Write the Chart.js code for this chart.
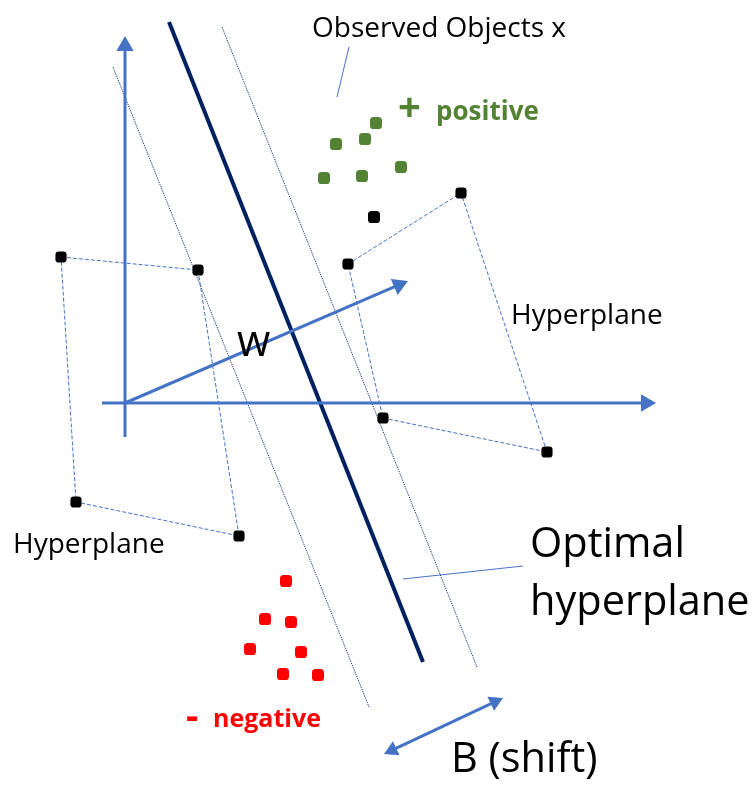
<!DOCTYPE html>
<html>
<head>
<meta charset="utf-8">
<script src="https://cdn.jsdelivr.net/npm/chart.js@4.4.1/dist/chart.umd.min.js"></script>
<style>
  html, body { margin: 0; padding: 0; background: #fff; }
  #wrap { position: relative; width: 753px; height: 787px; }
</style>
</head>
<body>
<div id="wrap"><canvas id="svm"></canvas></div>
<script>
// Diagram space: x 0..753 to the right, y 0..787 downwards.

// classes
const positivePoints = [[376, 123], [365, 139], [336, 144], [324, 178], [362, 176], [401, 167]];
const negativePoints = [[286, 581], [265, 619], [291, 622], [250, 649], [301, 652], [283, 674], [318, 675]];
const observedPoint = [[374, 217]];

// support vectors and their hyperplane boxes
const leftBox = [[61, 257], [198, 270], [239, 536], [76, 502]];
const rightBox = [[348, 264], [461, 193], [547, 452], [383, 418]];

// separating lines
const optimalLine = [[169, 22], [423, 662]];
const lowerMargin = [[113, 67], [369, 707]];
const upperMargin = [[222, 27], [477, 667]];

// arrows: [from, tip]
const yAxis = [[125, 437], [125, 36]];
const xAxis = [[102, 403], [656, 403]];
const wVector = [[125, 403], [408, 281]];
const shiftArrow = [[384, 754], [503, 698]];

// callout leaders
const observedLeader = [[349, 47], [337, 97]];
const optimalLeader = [[403, 579], [523, 566]];

const labels = [
  { text: 'Observed Objects x', x: 312, y: 37, size: 28 },
  { text: '+', x: 398, y: 121, size: 40, bold: true, color: '#548235' },
  { text: 'positive', x: 436, y: 120, size: 26, bold: true, color: '#548235' },
  { text: 'Hyperplane', x: 511, y: 324, size: 28 },
  { text: 'w', x: 237, y: 356, size: 43 },
  { text: 'Hyperplane', x: 13, y: 553, size: 28 },
  { text: 'Optimal', x: 530, y: 557, size: 41.5 },
  { text: 'hyperplane', x: 530, y: 615, size: 41.5 },
  { text: '-', x: 186, y: 729, size: 38, bold: true, color: '#ff0000' },
  { text: 'negative', x: 213, y: 727, size: 25, bold: true, color: '#ff0000' },
  { text: 'B (shift)', x: 451, y: 772, size: 41.5 },
];

const BLUE = '#4472c4';
const NAVY = '#002060';

const pts = arr => arr.map(p => ({ x: p[0], y: p[1] }));

function line(arr, color, width, dash) {
  return {
    data: pts(arr), showLine: true, fill: false, tension: 0,
    borderColor: color, borderWidth: width, borderDash: dash || [],
    pointRadius: 0, order: 5,
  };
}

function dots(arr, color, r) {
  return {
    data: pts(arr), showLine: false,
    pointStyle: 'rectRounded', pointRadius: r,
    pointBackgroundColor: color, pointBorderColor: color, pointBorderWidth: 0,
    order: 1,
  };
}

// arrowhead = rotated triangle point, centred one radius back from the tip
function arrow(arr, r, both) {
  const [a, b] = arr;
  const dx = b[0] - a[0], dy = b[1] - a[1];
  const len = Math.hypot(dx, dy);
  const ux = dx / len, uy = dy / len;
  const rot = Math.atan2(dx, -dy) * 180 / Math.PI;
  const start = both ? [a[0] + ux * r, a[1] + uy * r] : a;
  const end = [b[0] - ux * r, b[1] - uy * r];
  return {
    data: pts([start, end]), showLine: true, fill: false,
    borderColor: BLUE, borderWidth: 3,
    pointStyle: 'triangle',
    pointRadius: [both ? r : 0, r],
    pointRotation: [rot + 180, rot],
    pointBackgroundColor: BLUE, pointBorderColor: BLUE, pointBorderWidth: 0,
    order: 3,
  };
}

const textPlugin = {
  id: 'diagramText',
  afterDatasetsDraw(chart) {
    const { ctx, scales } = chart;
    ctx.save();
    ctx.textBaseline = 'alphabetic';
    ctx.textAlign = 'left';
    for (const l of labels) {
      ctx.font = (l.bold ? 'bold ' : '') + l.size + 'px "Open Sans", "Noto Sans", sans-serif';
      ctx.fillStyle = l.color || '#000';
      ctx.fillText(l.text, scales.x.getPixelForValue(l.x), scales.y.getPixelForValue(l.y));
    }
    ctx.restore();
  }
};

new Chart(document.getElementById('svm').getContext('2d'), {
  type: 'scatter',
  data: {
    datasets: [
      dots(positivePoints, '#548235', 7),
      dots(negativePoints, '#ff0000', 7),
      dots(observedPoint, '#000', 7),
      dots(leftBox, '#000', 6.5),
      dots(rightBox, '#000', 6.5),
      line([...leftBox, leftBox[0]], BLUE, 1, [4, 2]),
      line([...rightBox, rightBox[0]], BLUE, 1, [4, 2]),
      line(optimalLine, NAVY, 4),
      line(lowerMargin, NAVY, 1, [1, 1]),
      line(upperMargin, NAVY, 1, [1, 1]),
      line(observedLeader, BLUE, 1),
      line(optimalLeader, BLUE, 1),
      arrow(yAxis, 10),
      arrow(xAxis, 10),
      arrow(wVector, 10),
      arrow(shiftArrow, 9, true),
    ]
  },
  options: {
    animation: false,
    responsive: true,
    maintainAspectRatio: false,
    layout: { padding: 0, autoPadding: false },
    plugins: { legend: { display: false }, tooltip: { enabled: false } },
    scales: {
      x: { type: 'linear', min: 0, max: 753, display: false },
      y: { type: 'linear', min: 0, max: 787, reverse: true, display: false },
    },
  },
  plugins: [textPlugin],
});
</script>
</body>
</html>
